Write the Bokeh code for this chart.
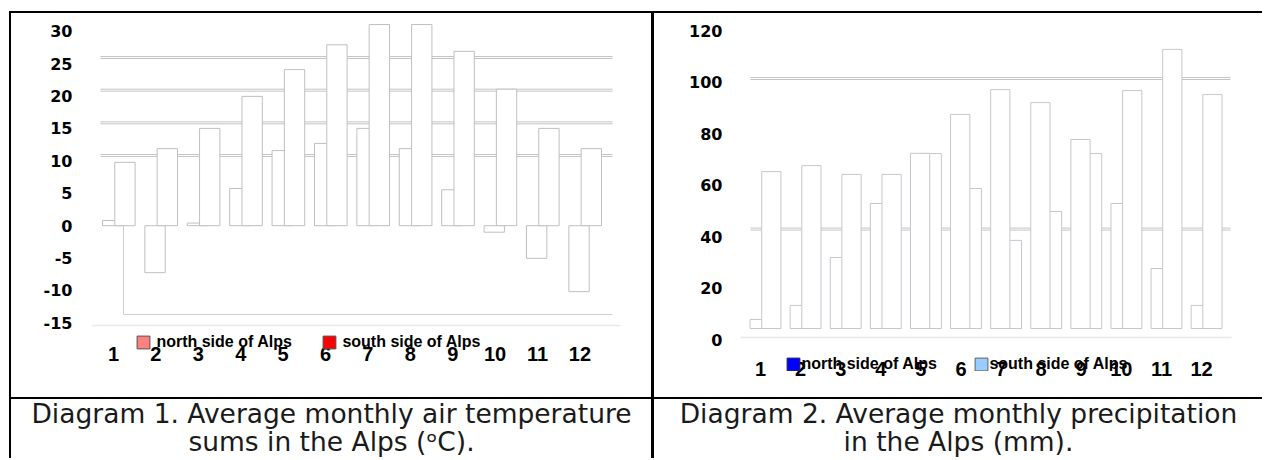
from bokeh.plotting import figure
from bokeh.models import (Range1d, LinearAxis, FixedTicker, ColumnDataSource,
                          Legend, LegendItem, Spacer)
from bokeh.layouts import column, row
from bokeh.embed import file_html
from bokeh.resources import INLINE
from bokeh.core.properties import value

# ---------------- data ----------------
months = [1, 2, 3, 4, 5, 6, 7, 8, 9, 10, 11, 12]
temp_north = [-0.1, -8.1, -0.5, 4.8, 10.6, 11.7, 14.0, 10.9, 4.6, -1.9, -5.9, -11.0]
temp_south = [8.8, 10.9, 14.0, 18.9, 23.0, 26.8, 29.9, 29.9, 25.8, 20.0, 14.0, 10.9]
prec_north = [3.6, 9.2, 28.3, 49.8, 69.8, 85.3, 95.2, 90.0, 75.3, 49.8, 23.9, 9.2]
prec_south = [62.5, 64.9, 61.4, 61.4, 69.7, 55.8, 35.1, 46.6, 69.7, 94.8, 111.2, 93.2]
temp_ticks = [-15, -10, -5, 0, 5, 10, 15, 20, 25, 30]
prec_ticks = [0, 20, 40, 60, 80, 100, 120]
temp_grid = [10, 15, 20, 25]
prec_grid = [40, 100]
series_labels = ["north side of Alps", "south side of Alps"]
caption1 = ["Diagram 1. Average monthly air temperature", "sums in the Alps (\u1d52C)."]
caption2 = ["Diagram 2. Average monthly precipitation", "in the Alps (mm)."]

# ---------------- layout / style constants ----------------
W1, W2 = 640, 608
H_CHART, H_CAP = 384, 59
YNUM_FONT = "'DejaVu Sans', sans-serif"
XNUM_FONT = "'Liberation Sans', Arial, sans-serif"
LEG_FONT = "'Liberation Sans Narrow', 'Liberation Sans', sans-serif"
CAP_FONT = "DejaVu Sans"
LEFT_OFF, RIGHT_OFF, BAR_W = -0.02, 0.27, 0.48


def black(w, h):
    return Spacer(width=w, height=h, styles={"background-color": "black"})


def chart(width, x_range, y_main, y_axis, mb, north, south, base, ticks, grid,
          grid_x, grid_gap, bar_color, colors, outline, leg_loc, leg_standoff,
          leg_label_w, x_standoff, y_standoff, floor):
    p = figure(width=width, height=H_CHART, output_backend="svg",
               toolbar_location=None, x_range=Range1d(*x_range),
               y_range=Range1d(*y_main), y_axis_location=None,
               min_border_left=mb[0], min_border_right=mb[1],
               min_border_top=mb[2], min_border_bottom=mb[3])
    p.background_fill_color = "white"
    p.border_fill_color = "white"
    p.outline_line_color = None
    p.grid.visible = False

    xa = p.xaxis[0]
    xa.ticker = FixedTicker(ticks=months)
    xa.axis_line_color = None
    xa.major_tick_line_color = None
    xa.minor_tick_line_color = None
    xa.major_tick_out = 0
    xa.major_tick_in = 0
    xa.major_label_text_font = XNUM_FONT
    xa.major_label_text_font_size = "20px"
    xa.major_label_text_font_style = "bold"
    xa.major_label_text_color = "black"
    xa.major_label_standoff = x_standoff

    p.extra_y_ranges = {"ax": Range1d(*y_axis)}
    ya = LinearAxis(y_range_name="ax", ticker=FixedTicker(ticks=ticks))
    ya.major_label_overrides = {t: str(t) for t in ticks}
    ya.axis_line_color = None
    ya.major_tick_line_color = None
    ya.minor_tick_line_color = None
    ya.major_tick_out = 0
    ya.major_tick_in = 0
    ya.major_label_text_font = YNUM_FONT
    ya.major_label_text_font_size = "16px"
    ya.major_label_text_font_style = "bold"
    ya.major_label_text_color = "black"
    ya.major_label_standoff = y_standoff
    p.add_layout(ya, "left")

    # legend proxies: tiny swatches hidden beneath the first tall bar (drawn first)
    hx = months[0] + RIGHT_OFF
    hb = max(base, 0) + 0.5
    rn = p.vbar(x=[hx], bottom=[hb], top=[hb + 1], width=0.1,
                fill_color=colors[0], line_color=outline[0])
    rs = p.vbar(x=[hx], bottom=[hb], top=[hb + 1], width=0.1,
                fill_color=colors[1], line_color=outline[1])

    # faint floor front line
    p.segment(x0=[floor[0]], x1=[floor[1]], y0=[floor[2]], y1=[floor[2]],
              line_color="#e8e8e8", line_width=1.5)

    # back-wall grid lines (drawn as double lines)
    gy = grid + [g - grid_gap for g in grid]
    p.segment(x0=[grid_x[0]] * len(gy), x1=[grid_x[1]] * len(gy), y0=gy, y1=gy,
              line_color="#c4c4c4", line_width=1)

    # bars: north on the left, south on the right; taller ones drawn on top
    recs = []
    for m, n, s in zip(months, north, south):
        recs.append((m + LEFT_OFF, n))
        recs.append((m + RIGHT_OFF, s))
    recs.sort(key=lambda r: abs(r[1] - base))
    src = ColumnDataSource(dict(x=[r[0] for r in recs], top=[r[1] for r in recs],
                                bottom=[base] * len(recs)))
    p.vbar(x="x", top="top", bottom="bottom", width=BAR_W, source=src,
           fill_color="white", line_color=bar_color, line_width=1)

    leg = Legend(items=[LegendItem(label=series_labels[0], renderers=[rn]),
                        LegendItem(label=series_labels[1], renderers=[rs])],
                 orientation="horizontal", location=leg_loc,
                 glyph_width=16, glyph_height=16, label_height=16,
                 label_standoff=leg_standoff, label_width=leg_label_w, spacing=0,
                 padding=0, margin=0, border_line_color=None,
                 background_fill_alpha=0,
                 label_text_font=LEG_FONT, label_text_font_size="16px",
                 label_text_font_style="bold", label_text_color="black",
                 label_text_baseline="middle")
    p.add_layout(leg)
    return p


# frames of both charts share top (y=20) and bottom (y=371) in page pixels
p1 = chart(W1, (0.4104, 13.005), (-23.23, 30.52), (-22.53, 31.64),
           (77, 29, 7, 26), temp_north, temp_south, -0.9, temp_ticks, temp_grid,
           (0.69, 12.77), 0.3, "#bfbfbf", ("#ff8080", "#ff0000"),
           ("#505050", "#505050"), (47.4, 20.4), 5, 165, -25, 16,
           (0.5, 12.96, -16.2))
p1.segment(x0=[1.236, 1.236], x1=[1.236, 12.77], y0=[-0.9, -14.5], y1=[-14.5, -14.5],
           line_color="#cfcfcf", line_width=1)

p2 = chart(W2, (0.302, 13.22), (-17.13, 122.71), (-12.45, 124.12),
           (78, 12, 7, 26), prec_north, prec_south, 0, prec_ticks, prec_grid,
           (0.75, 12.72), 0.8, "#c6c6ce", ("#0000ff", "#99ccff"),
           ("#202060", "#606060"), (53.4, -2), 0, 172, -10, 10,
           (0.5, 12.75, -3.6))


def cap(width, lines):
    c = figure(width=width, height=H_CAP, output_backend="svg", toolbar_location=None,
               x_range=Range1d(0, width), y_range=Range1d(H_CAP, 0),
               x_axis_location=None, y_axis_location=None, min_border=0)
    c.outline_line_color = None
    c.grid.visible = False
    c.background_fill_color = "white"
    c.border_fill_color = "white"
    c.text(x=[width / 2] * 2, y=[14, 42], text=lines, text_align="center",
           text_baseline="middle", text_font=value(CAP_FONT),
           text_font_size="26.5px", text_color="#1a1a1a")
    return c


c1 = cap(W1, caption1)
c2 = cap(W2, caption2)

TOTAL_W = 9 + 2 + W1 + 3 + W2
layout = column(
    Spacer(width=TOTAL_W, height=11),
    row(Spacer(width=9, height=2), black(TOTAL_W - 9, 2)),
    row(Spacer(width=9, height=H_CHART), black(2, H_CHART), p1, black(3, H_CHART), p2),
    row(Spacer(width=9, height=2), black(TOTAL_W - 9, 2)),
    row(Spacer(width=9, height=H_CAP), black(2, H_CAP), c1, black(3, H_CAP), c2),
)
open("out.html", "w").write(file_html(layout, INLINE))
